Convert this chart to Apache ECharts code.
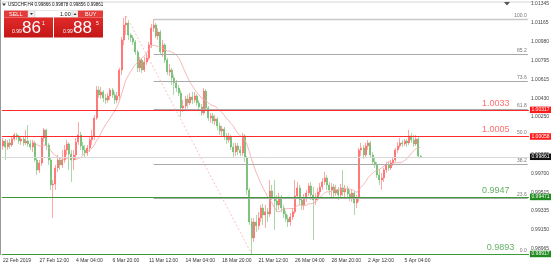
<!DOCTYPE html>
<html><head><meta charset="utf-8">
<script src="https://cdn.jsdelivr.net/npm/echarts@6/dist/echarts.min.js"></script>
<style>html,body{margin:0;padding:0;background:#fff}#c{width:552px;height:266px}</style>
</head><body><div id="c"></div>
<script>
// ---- data ----
const symbolTitle = 'USDCHF,H4 0.99866 0.99878 0.99856 0.99861';
const tickLabels = ['22 Feb 2019','27 Feb 12:00','4 Mar 04:00','6 Mar 20:00','11 Mar 12:00','14 Mar 04:00','18 Mar 20:00','21 Mar 12:00','26 Mar 04:00','28 Mar 20:00','2 Apr 12:00','5 Apr 04:00'];
const yTicks = [1.01345,1.01165,1.00980,1.00795,1.00615,1.00430,1.00250,1.00065,0.99885,0.99700,0.99515,0.99335,0.99150,0.98965];
// [open, close, low, high]
const candles = [
[0.99967,1.00015,0.99928,1.00044],[1.00015,0.99957,0.99830,1.00034],[0.99957,0.99996,0.99928,1.00025],[0.99996,0.99976,0.99937,1.00034],
[0.99976,1.00034,0.99957,1.00054],[1.00034,1.00073,1.00015,1.00093],[1.00073,1.00054,1.00025,1.00093],[1.00054,1.00015,0.99986,1.00073],
[1.00015,1.00034,0.99976,1.00054],[1.00034,0.99996,0.99967,1.00054],[0.99996,1.00015,0.99976,1.00122],[1.00015,0.99986,0.99957,1.00170],
[0.99986,0.99957,0.99928,1.00025],[0.99957,0.99996,0.99908,1.00025],[0.99996,0.99830,0.99811,1.00015],[0.99830,0.99733,0.99685,0.99850],
[0.99733,0.99801,0.99704,0.99830],[0.99801,1.00044,0.99772,1.00064],[1.00044,1.00122,1.00005,1.00141],[1.00122,0.99976,0.99928,1.00131],
[0.99976,0.99830,0.99782,0.99996],[0.99830,0.99588,0.99539,0.99850],[0.99588,0.99597,0.99267,0.99636],[0.99597,0.99753,0.99539,0.99782],
[0.99753,0.99830,0.99714,0.99879],[0.99830,0.99782,0.99733,0.99860],[0.99782,0.99830,0.99753,0.99928],[0.99830,0.99928,0.99801,0.99976],
[0.99928,0.99986,0.99879,1.00025],[0.99986,0.99889,0.99733,1.00005],[0.99889,0.99830,0.99617,0.99928],[0.99830,0.99879,0.99733,0.99928],
[0.99879,1.00005,0.99830,1.00044],[1.00005,1.00073,0.99976,1.00199],[1.00073,0.99967,0.99928,1.00102],[0.99967,0.99928,0.99879,1.00005],
[0.99928,0.99898,0.99850,0.99976],[0.99898,0.99947,0.99869,0.99976],[0.99947,1.00025,0.99908,1.00054],[1.00025,1.00064,0.99976,1.00122],
[1.00064,1.00238,1.00025,1.00267],[1.00238,1.00510,1.00219,1.00549],[1.00510,1.00462,1.00432,1.00549],[1.00462,1.00491,1.00423,1.00539],
[1.00491,1.00432,1.00394,1.00510],[1.00432,1.00413,1.00374,1.00471],[1.00413,1.00452,1.00384,1.00481],[1.00452,1.00510,1.00413,1.00529],
[1.00510,1.00462,1.00432,1.00529],[1.00462,1.00413,1.00374,1.00491],[1.00413,1.00452,1.00384,1.00491],[1.00452,1.00704,1.00413,1.00724],
[1.00704,1.00996,1.00656,1.01025],[1.00996,1.01141,1.00947,1.01209],[1.01141,1.01161,1.01044,1.01229],[1.01161,1.01044,1.00996,1.01180],
[1.01044,1.01015,1.00976,1.01064],[1.01015,1.00976,1.00947,1.01044],[1.00976,1.00879,1.00850,1.00996],[1.00879,1.00724,1.00685,1.00898],
[1.00724,1.00801,1.00685,1.00831],[1.00801,1.00704,1.00675,1.00821],[1.00704,1.00782,1.00685,1.00831],[1.00782,1.00821,1.00753,1.00869],
[1.00821,1.00947,1.00801,1.00976],[1.00947,1.01112,1.00918,1.01151],[1.01112,1.01141,1.01073,1.01199],[1.01141,1.01034,1.01015,1.01161],
[1.01034,1.01073,1.00996,1.01112],[1.01073,1.00879,1.00850,1.01093],[1.00879,1.00947,1.00831,1.00996],[1.00947,1.00801,1.00772,1.00966],
[1.00801,1.00685,1.00656,1.00821],[1.00685,1.00704,1.00646,1.00763],[1.00704,1.00627,1.00559,1.00724],[1.00627,1.00578,1.00462,1.00656],
[1.00578,1.00529,1.00491,1.00607],[1.00529,1.00481,1.00452,1.00559],[1.00481,1.00335,1.00248,1.00510],[1.00335,1.00355,1.00296,1.00413],
[1.00355,1.00423,1.00316,1.00452],[1.00423,1.00384,1.00335,1.00462],[1.00384,1.00442,1.00364,1.00481],[1.00442,1.00413,1.00374,1.00491],
[1.00413,1.00452,1.00384,1.00491],[1.00452,1.00384,1.00355,1.00471],[1.00384,1.00345,1.00316,1.00413],[1.00345,1.00287,1.00258,1.00374],
[1.00287,1.00500,1.00267,1.00529],[1.00500,1.00335,1.00306,1.00520],[1.00335,1.00238,1.00209,1.00355],[1.00238,1.00258,1.00190,1.00287],
[1.00258,1.00209,1.00180,1.00287],[1.00209,1.00229,1.00170,1.00267],[1.00229,1.00161,1.00122,1.00248],[1.00161,1.00112,1.00073,1.00190],
[1.00112,1.00131,1.00054,1.00161],[1.00131,1.00064,1.00025,1.00151],[1.00064,1.00025,0.99986,1.00093],[1.00025,1.00054,0.99996,1.00093],
[1.00054,0.99957,0.99928,1.00073],[0.99957,0.99908,0.99860,0.99996],[0.99908,0.99967,0.99869,0.99996],[0.99967,0.99928,0.99879,0.99996],
[0.99928,0.99898,0.99869,0.99967],[0.99898,1.00064,0.99869,1.00093],[1.00064,0.99850,0.99811,1.00083],[0.99850,0.99539,0.99491,0.99869],
[0.99539,0.99228,0.99199,0.99559],[0.99228,0.99073,0.98917,0.99267],[0.99073,0.99228,0.99034,0.99267],[0.99228,0.99190,0.99131,0.99296],
[0.99190,0.99267,0.99151,0.99326],[0.99267,0.99364,0.99228,0.99393],[0.99364,0.99296,0.99199,0.99403],[0.99296,0.99326,0.99170,0.99393],
[0.99326,0.99306,0.99228,0.99364],[0.99306,0.99529,0.99277,0.99636],[0.99529,0.99471,0.99442,0.99588],[0.99471,0.99432,0.99151,0.99636],
[0.99432,0.99393,0.99326,0.99491],[0.99393,0.99471,0.99345,0.99510],[0.99471,0.99364,0.99326,0.99491],[0.99364,0.99306,0.99267,0.99393],
[0.99306,0.99258,0.99228,0.99335],[0.99258,0.99228,0.99180,0.99296],[0.99228,0.99277,0.99190,0.99316],[0.99277,0.99326,0.99248,0.99364],
[0.99326,0.99481,0.99306,0.99636],[0.99481,0.99559,0.99461,0.99617],[0.99559,0.99442,0.99393,0.99588],[0.99442,0.99393,0.99345,0.99471],
[0.99393,0.99461,0.99345,0.99500],[0.99461,0.99510,0.99423,0.99539],[0.99510,0.99578,0.99481,0.99607],[0.99578,0.99491,0.99442,0.99617],
[0.99491,0.99442,0.99054,0.99568],[0.99442,0.99471,0.99393,0.99510],[0.99471,0.99520,0.99442,0.99559],[0.99520,0.99568,0.99491,0.99607],
[0.99568,0.99617,0.99539,0.99656],[0.99617,0.99656,0.99588,0.99714],[0.99656,0.99588,0.99539,0.99685],[0.99588,0.99539,0.99491,0.99617],
[0.99539,0.99568,0.99471,0.99607],[0.99568,0.99510,0.99461,0.99597],[0.99510,0.99539,0.99481,0.99588],[0.99539,0.99491,0.99442,0.99568],
[0.99491,0.99559,0.99461,0.99597],[0.99559,0.99520,0.99481,0.99733],[0.99520,0.99549,0.99471,0.99588],[0.99549,0.99500,0.99452,0.99578],
[0.99500,0.99461,0.99432,0.99539],[0.99461,0.99510,0.99423,0.99539],[0.99510,0.99413,0.99296,0.99529],[0.99413,0.99461,0.99364,0.99491],
[0.99461,0.99928,0.99423,0.99947],[0.99928,0.99947,0.99869,0.99996],[0.99947,0.99879,0.99840,0.99976],[0.99879,0.99967,0.99850,0.99996],
[0.99967,0.99996,0.99928,1.00025],[0.99996,0.99879,0.99850,1.00015],[0.99879,0.99811,0.99782,0.99908],[0.99811,0.99782,0.99753,0.99850],
[0.99782,0.99685,0.99656,0.99811],[0.99685,0.99636,0.99588,0.99733],[0.99636,0.99656,0.99539,0.99704],[0.99656,0.99733,0.99617,0.99753],
[0.99733,0.99782,0.99704,0.99811],[0.99782,0.99753,0.99724,0.99811],[0.99753,0.99801,0.99733,0.99830],[0.99801,0.99830,0.99772,0.99860],
[0.99830,0.99928,0.99811,0.99947],[0.99928,0.99967,0.99898,1.00005],[0.99967,0.99996,0.99947,1.00044],[0.99996,0.99986,0.99957,1.00025],
[0.99986,1.00015,0.99967,1.00034],[1.00015,0.99996,0.99957,1.00034],[0.99996,1.00064,0.99976,1.00122],[1.00064,1.00025,0.99996,1.00093],
[1.00025,0.99986,0.99957,1.00073],[0.99986,1.00034,0.99967,1.00073],[1.00034,0.99869,0.99850,1.00064],[0.99866,0.99861,0.99856,0.99878]
];
const maPeriod = 14;
const fibHigh = 1.01199, fibLow = 0.98917;
const fibLevels = [100.0, 85.2, 73.6, 61.8, 50.0, 38.2, 23.6, 0.0];
const fibStartBar = 66;
const trendFrom = [54, 1.01229];
const trendTo = [109, 0.98917];
const redLevels = [1.00317, 1.00058];
const redTexts = ['1.0033', '1.0005'];
const greenLevels = [0.99471, 0.98917];
const greenTexts = ['0.9947', '0.9893'];
const lastPrice = 0.99861;
const sellQuote = ['0.99', '86', '1'];
const buyQuote = ['0.99', '88', '5'];
const lotSize = '1.00';
const barsTotal = 231; // incl. empty chart-shift area

// ---- build ----
const cats = [];
{
  let t = Date.UTC(2019, 1, 22, 20);
  const mon = ['Jan','Feb','Mar','Apr'];
  while (cats.length < candles.length) {
    const d = new Date(t);
    const wd = d.getUTCDay();
    if (wd !== 0 && wd !== 6) {
      cats.push(d.getUTCDate() + ' ' + mon[d.getUTCMonth()] + ' ' + String(d.getUTCHours()).padStart(2,'0') + ':00');
    }
    t += 4 * 3600 * 1000;
  }
  while (cats.length < barsTotal) cats.push('');
}
const ma = candles.map((c, i) => {
  if (i < maPeriod - 1) return '-';
  let s = 0; for (let k = i - maPeriod + 1; k <= i; k++) s += candles[k][1];
  return +(s / maPeriod).toFixed(5);
});
const last = barsTotal - 1;
const fibLines = fibLevels.map(l => {
  const v = fibLow + (fibHigh - fibLow) * l / 100;
  return [
    {coord: [fibStartBar, v], lineStyle: {color: l === 100 ? '#c8c8c8' : '#a9a9a9', width: l === 100 ? 1.4 : 1, type: 'solid'},
     label: {show: true, position: 'insideEndTop', formatter: l.toFixed(1), fontSize: 5, color: '#777', distance: 1, fontFamily: 'Liberation Sans'}},
    {coord: [last, v]}
  ];
});
const trend = [[{coord: trendFrom, lineStyle: {color: '#f6b0b0', width: 0.8, type: [2, 2]}, label: {show: false}}, {coord: trendTo}]];
const boxLabel = (bg, txt) => ({show: true, position: 'end', formatter: txt, backgroundColor: bg, color: '#fff', fontSize: 5, padding: [1, 1.5, 0.5, 1.5], distance: 1, fontFamily: 'Liberation Sans'});
const hLines = [];
hLines.push({yAxis: lastPrice, lineStyle: {color: '#d8d8d8', width: 1, type: 'solid'}, label: boxLabel('#111', lastPrice.toFixed(5))});
redLevels.forEach(v => hLines.push({yAxis: v, lineStyle: {color: '#ff2a2a', width: 1.2, type: 'solid'}, label: boxLabel('#ff1a1a', v.toFixed(5))}));
greenLevels.forEach(v => hLines.push({yAxis: v, lineStyle: {color: '#3a9a3a', width: 1.2, type: 'solid'}, label: boxLabel('#1f8a1f', v.toFixed(5))}));

const textPts = [];
redLevels.forEach((v, i) => textPts.push({value: [216, v], label: {formatter: redTexts[i], color: '#ff4a4a'}}));
greenLevels.forEach((v, i) => textPts.push({value: [i === 0 ? 216 : 218, v], label: {formatter: greenTexts[i], color: '#3d9a3d'}}));

const chart = echarts.init(document.getElementById('c'), null, {renderer: 'canvas'});
chart.setOption({
  animation: false,
  backgroundColor: '#fff',
  grid: {left: 1.85, right: 18.85, top: 0, bottom: 11},
  xAxis: {
    type: 'category', data: cats, boundaryGap: true,
    axisLine: {show: false}, axisTick: {show: false}, splitLine: {show: false},
    axisLabel: {
      fontSize: 5, color: '#333', align: 'left', margin: 3, fontFamily: 'Liberation Sans',
      interval: (i) => i % 16 === 0 && i / 16 < tickLabels.length,
      formatter: (v, i) => tickLabels[Math.round(i / 16)] || ''
    }
  },
  yAxis: {
    type: 'value', position: 'right', min: 0.98907, max: 1.01384, scale: true,
    axisLine: {show: false}, axisTick: {show: false}, splitLine: {show: false},
    axisLabel: {customValues: yTicks, formatter: v => v.toFixed(5), fontSize: 5, color: '#444', margin: 2, fontFamily: 'Liberation Sans'}
  },
  series: [
    {
      type: 'line', data: [], silent: true,
      markLine: {symbol: 'none', silent: true, animation: false, precision: 5, data: fibLines.concat(trend).concat(hLines)}
    },
    {
      type: 'candlestick', data: candles, barWidth: 1.5,
      itemStyle: {color: '#ff2020', color0: '#2b8f2b', borderColor: '#ff6a6a', borderColor0: '#6fbf6f', borderWidth: 0.6}
    },
    {
      type: 'line', data: ma, symbol: 'none', smooth: false,
      lineStyle: {color: '#f4a6a6', width: 0.8}
    },
    {
      type: 'scatter', data: textPts, symbolSize: 0.1, silent: true,
      label: {show: true, position: 'top', distance: 2, fontSize: 9, fontFamily: 'Liberation Sans'}
    }
  ],
  graphic: [
    {type: 'line', shape: {x1: 0.5, y1: 0, x2: 0.5, y2: 255}, style: {stroke: '#999', lineWidth: 1}},
    {type: 'line', shape: {x1: 0, y1: 2, x2: 535, y2: 2}, style: {stroke: '#d4d4d4', lineWidth: 1}},
    {type: 'polygon', shape: {points: [[504, 2], [510, 2], [507, 5.5]]}, style: {fill: '#555'}},
    {type: 'polygon', shape: {points: [[2, 3.5], [6, 3.5], [4, 6]]}, style: {fill: '#444'}},
    {type: 'text', left: 8, top: 2.5, style: {text: symbolTitle, fontSize: 4.5, fill: '#111', fontFamily: 'Liberation Sans'}},
    // top row
    {type: 'rect', shape: {x: 4, y: 10.5, width: 24, height: 7}, style: {fill: '#e43b3b'}},
    {type: 'text', left: 9, top: 11.5, style: {text: 'SELL', fontSize: 5.5, fill: '#fff', fontFamily: 'Liberation Sans'}},
    {type: 'rect', shape: {x: 28, y: 10.5, width: 7, height: 7}, style: {fill: '#eee', stroke: '#ccc', lineWidth: 0.5}},
    {type: 'polygon', shape: {points: [[30, 13], [33, 13], [31.5, 15]]}, style: {fill: '#333'}},
    {type: 'rect', shape: {x: 35, y: 10.5, width: 37, height: 7}, style: {fill: '#fff', stroke: '#ccc', lineWidth: 0.5}},
    {type: 'text', left: 60, top: 11.5, style: {text: lotSize, fontSize: 5.5, fill: '#111', fontFamily: 'Liberation Sans'}},
    {type: 'rect', shape: {x: 72, y: 10.5, width: 6, height: 7}, style: {fill: '#eee', stroke: '#ccc', lineWidth: 0.5}},
    {type: 'polygon', shape: {points: [[73.5, 15], [76.5, 15], [75, 13]]}, style: {fill: '#333'}},
    {type: 'rect', shape: {x: 78, y: 10.5, width: 25, height: 7}, style: {fill: '#e43b3b'}},
    {type: 'text', left: 85, top: 11.5, style: {text: 'BUY', fontSize: 5.5, fill: '#fff', fontFamily: 'Liberation Sans'}},
    // quote boxes
    {type: 'rect', shape: {x: 4, y: 17.5, width: 49, height: 20}, style: {fill: new echarts.graphic.LinearGradient(0, 0, 0, 1, [{offset: 0, color: '#e02a2a'}, {offset: 1, color: '#c41616'}])}},
    {type: 'rect', shape: {x: 54, y: 17.5, width: 49, height: 20}, style: {fill: new echarts.graphic.LinearGradient(0, 0, 0, 1, [{offset: 0, color: '#e02a2a'}, {offset: 1, color: '#c41616'}])}},
    {type: 'text', left: 12, top: 29, style: {text: sellQuote[0], fontSize: 5, fill: '#fff', fontFamily: 'Liberation Sans'}},
    {type: 'text', left: 22, top: 20, style: {text: sellQuote[1], fontSize: 17, fill: '#fff', fontFamily: 'Liberation Sans'}},
    {type: 'text', left: 42, top: 21.5, style: {text: sellQuote[2], fontSize: 5, fill: '#fff', fontFamily: 'Liberation Sans'}},
    {type: 'text', left: 63, top: 29, style: {text: buyQuote[0], fontSize: 5, fill: '#fff', fontFamily: 'Liberation Sans'}},
    {type: 'text', left: 73, top: 20, style: {text: buyQuote[1], fontSize: 17, fill: '#fff', fontFamily: 'Liberation Sans'}},
    {type: 'text', left: 96, top: 21.5, style: {text: buyQuote[2], fontSize: 5, fill: '#fff', fontFamily: 'Liberation Sans'}}
  ]
});
</script></body></html>
